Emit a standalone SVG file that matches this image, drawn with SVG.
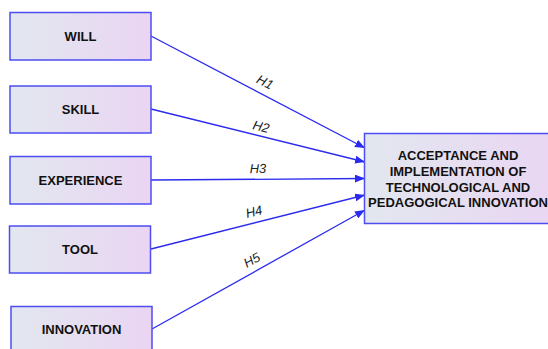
<svg xmlns="http://www.w3.org/2000/svg" width="548" height="349" viewBox="0 0 548 349">
<style>
.box{stroke:#4d4df2;stroke-width:1.5;fill:url(#g)}
.lbl{font-family:"Liberation Sans",Arial,sans-serif;font-weight:bold;font-size:13px;fill:#111;text-anchor:middle}
.edge{stroke:#2b2bf0;stroke-width:1.3;fill:none;marker-end:url(#ah)}
.h{font-family:"Liberation Sans",Arial,sans-serif;font-style:italic;font-size:13px;fill:#222;text-anchor:middle}
</style>
<defs>
<linearGradient id="g" x1="0" y1="0" x2="1" y2="0">
<stop offset="0" stop-color="#e2e7ef"/>
<stop offset="1" stop-color="#ead5f3"/>
</linearGradient>
<marker id="ah" viewBox="0 0 10 8" refX="10" refY="4" markerWidth="10" markerHeight="8" markerUnits="userSpaceOnUse" orient="auto">
<path d="M0,0 L10,4 L0,8 Z" fill="#2b2bf0"/>
</marker>
</defs>
<rect width="548" height="349" fill="#fff"/>
<g id="connectors">
<line class="edge" x1="151" y1="36" x2="365" y2="148"/>
<line class="edge" x1="151" y1="109" x2="365" y2="162"/>
<line class="edge" x1="151" y1="180" x2="365" y2="178.5"/>
<line class="edge" x1="151" y1="249" x2="365" y2="195"/>
<line class="edge" x1="152" y1="329" x2="365" y2="210"/>
<text class="h" transform="translate(263,86) rotate(27)">H1</text>
<text class="h" transform="translate(260,131) rotate(14)">H2</text>
<text class="h" transform="translate(258,173) rotate(-1)">H3</text>
<text class="h" transform="translate(255,216) rotate(-14)">H4</text>
<text class="h" transform="translate(254,264) rotate(-29)">H5</text>
</g>
<g id="will"><rect class="box" x="10" y="12.5" width="141" height="47.5"/><text class="lbl" x="80.5" y="41">WILL</text></g>
<g id="skill"><rect class="box" x="10" y="86" width="141" height="47"/><text class="lbl" x="80.5" y="114">SKILL</text></g>
<g id="experience"><rect class="box" x="10" y="156.5" width="141" height="47.5"/><text class="lbl" x="80.5" y="185">EXPERIENCE</text></g>
<g id="tool"><rect class="box" x="9.5" y="226" width="141" height="47"/><text class="lbl" x="80" y="254">TOOL</text></g>
<g id="innovation"><rect class="box" x="11" y="306.5" width="141" height="50"/><text class="lbl" x="81.5" y="334">INNOVATION</text></g>
<g id="acceptance"><rect class="box" x="364.5" y="133.5" width="200" height="90"/>
<text class="lbl" x="458" y="160">ACCEPTANCE AND</text>
<text class="lbl" x="458" y="175.5">IMPLEMENTATION OF</text>
<text class="lbl" x="458" y="191.5">TECHNOLOGICAL AND</text>
<text class="lbl" x="458" y="206.5">PEDAGOGICAL INNOVATION</text>
</g>
</svg>
